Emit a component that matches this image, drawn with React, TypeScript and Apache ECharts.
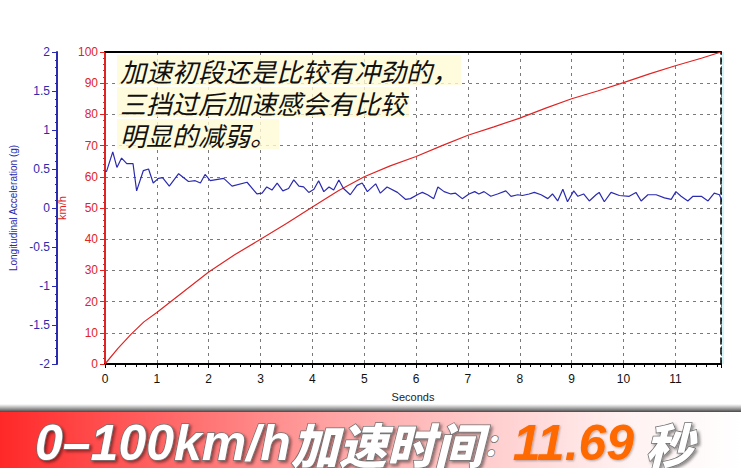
import React, { useEffect, useRef } from 'react';
import * as echarts from 'echarts';

// Vehicle speed (km/h) vs time (s)
const speedTime = [0, 0.25, 0.5, 0.75, 1, 1.5, 2, 2.5, 3, 3.5, 4, 4.5, 5, 5.5, 6, 6.5, 7, 7.5, 8, 8.5, 9, 9.5, 10, 10.5, 11, 11.5, 11.88];
const speedKmh = [0, 5, 9.5, 13.5, 16.5, 23, 29.5, 35, 40, 45, 50.3, 55.5, 60, 63.5, 66.5, 70, 73.3, 76, 78.8, 82, 85, 87.5, 90.2, 93, 95.6, 98, 100];

// Longitudinal acceleration (g) vs time (s)
const accelTime = [
  0, 0.03, 0.15, 0.23, 0.32, 0.42, 0.54, 0.61, 0.74, 0.84, 0.93, 1.03, 1.11, 1.24, 1.42, 1.61, 1.74, 1.84, 1.93, 2.03,
  2.29, 2.45, 2.74, 2.93, 3.03, 3.12, 3.22, 3.32, 3.43, 3.54, 3.64, 3.74, 3.83, 3.93, 4.03, 4.12, 4.22, 4.32, 4.41,
  4.51, 4.6, 4.73, 4.86, 4.96, 5.06, 5.22, 5.31, 5.44, 5.64, 5.8, 5.89, 6.05, 6.12, 6.22, 6.34, 6.42, 6.54, 6.67,
  6.76, 6.89, 7.02, 7.13, 7.21, 7.31, 7.44, 7.57, 7.73, 7.83, 7.96, 8.05, 8.18, 8.28, 8.41, 8.54, 8.63, 8.73, 8.83,
  8.92, 9.04, 9.12, 9.23, 9.34, 9.47, 9.53, 9.63, 9.76, 9.92, 10.11, 10.24, 10.34, 10.47, 10.63, 10.79, 10.92, 11.01,
  11.11, 11.24, 11.34, 11.5, 11.63, 11.75, 11.85, 11.88,
];
const accelG = [
  0.47, 0.47, 0.72, 0.52, 0.64, 0.57, 0.57, 0.22, 0.48, 0.5, 0.32, 0.38, 0.39, 0.28, 0.44, 0.34, 0.35, 0.32, 0.43, 0.35,
  0.38, 0.28, 0.33, 0.18, 0.19, 0.27, 0.23, 0.32, 0.22, 0.25, 0.36, 0.28, 0.27, 0.2, 0.24, 0.35, 0.21, 0.27, 0.23,
  0.36, 0.25, 0.17, 0.29, 0.32, 0.21, 0.31, 0.19, 0.27, 0.2, 0.11, 0.12, 0.18, 0.2, 0.17, 0.12, 0.27, 0.21, 0.18,
  0.19, 0.12, 0.18, 0.21, 0.18, 0.21, 0.15, 0.18, 0.22, 0.15, 0.17, 0.16, 0.18, 0.2, 0.17, 0.12, 0.18, 0.09, 0.24,
  0.08, 0.22, 0.15, 0.18, 0.09, 0.17, 0.2, 0.08, 0.2, 0.16, 0.15, 0.2, 0.09, 0.17, 0.17, 0.13, 0.11, 0.21,
  0.15, 0.09, 0.15, 0.15, 0.09, 0.19, 0.17, 0.12,
];

const xMax = 11.88;
const speedTicks = { min: 0, max: 100, interval: 10 };
const accelTicks = { min: -2, max: 2, interval: 0.5 };

const noteLines = ['加速初段还是比较有冲劲的，', '三挡过后加速感会有比较', '明显的减弱。'];
const bannerParts = { lead: '0–100km/h', label: '加速时间', colon: '：', value: '11.69', unit: ' 秒' };

const RED = '#e02424';
const BLUE = '#2b2bb0';
const GRID = '#7a7a7a';

export default function App() {
  const ref = useRef<HTMLDivElement>(null);
  useEffect(() => {
    const chart = echarts.init(ref.current!, null, { renderer: 'svg' });
    const whiteBig = {
      fontWeight: 'bold', fontStyle: 'italic',
      fill: '#ffffff', stroke: '#707070', lineWidth: 1.5, lineHeight: 40,
      textShadowColor: 'rgba(0,0,0,0.45)', textShadowBlur: 3, textShadowOffsetX: 2, textShadowOffsetY: 2,
    };
    const option: any = {
      animation: false,
      backgroundColor: '#ffffff',
      textStyle: { fontFamily: 'Liberation Sans, Arial, sans-serif' },
      grid: { left: 105, right: 20, top: 52, bottom: 104, containLabel: false },
      xAxis: [
        {
          type: 'value',
          min: 0,
          max: xMax,
          interval: 1,
          name: 'Seconds',
          nameLocation: 'middle',
          nameGap: 27,
          nameTextStyle: { color: '#222', fontSize: 11 },
          axisLine: { show: true, onZero: false, lineStyle: { color: '#000', width: 2 } },
          axisTick: { show: true, length: 4, lineStyle: { color: '#000' } },
          minorTick: { show: true, splitNumber: 5, length: 3, lineStyle: { color: '#000' } },
          axisLabel: {
            color: '#111',
            fontSize: 12,
            margin: 9,
            showMaxLabel: false,
            formatter: (v: number) => (Number.isInteger(v) ? String(v) : ''),
          },
          splitLine: { show: true, lineStyle: { color: GRID, type: [3, 4], width: 1 } },
        },
        {
          type: 'value',
          position: 'top',
          min: 0,
          max: xMax,
          axisLine: { show: true, onZero: false, lineStyle: { color: '#000', width: 2 } },
          axisTick: { show: false },
          axisLabel: { show: false },
          splitLine: { show: false },
        },
      ],
      yAxis: [
        {
          type: 'value',
          position: 'left',
          ...speedTicks,
          name: 'km/h',
          nameLocation: 'middle',
          nameRotate: 90,
          nameGap: 31,
          nameTextStyle: { color: RED, fontSize: 11 },
          axisLine: { show: true, onZero: false, lineStyle: { color: RED, width: 2 } },
          axisTick: { show: true, length: 5, lineStyle: { color: RED } },
          minorTick: { show: true, splitNumber: 5, length: 2, lineStyle: { color: RED } },
          axisLabel: { color: RED, fontSize: 12, margin: 7 },
          splitLine: { show: true, lineStyle: { color: GRID, type: [3, 4], width: 1 } },
        },
        {
          type: 'value',
          position: 'left',
          offset: 48,
          ...accelTicks,
          name: 'Longitudinal Acceleration (g)',
          nameLocation: 'middle',
          nameRotate: 90,
          nameGap: 36,
          nameTextStyle: { color: BLUE, fontSize: 10 },
          axisLine: { show: true, onZero: false, lineStyle: { color: BLUE, width: 2 } },
          axisTick: { show: true, length: 5, lineStyle: { color: BLUE } },
          minorTick: { show: true, splitNumber: 5, length: 2, lineStyle: { color: BLUE } },
          axisLabel: { color: BLUE, fontSize: 12, margin: 7 },
          splitLine: { show: false },
        },
        {
          type: 'value',
          position: 'right',
          ...speedTicks,
          axisLine: { show: true, onZero: false, lineStyle: { color: '#000', width: 1.5, type: [6, 4] } },
          axisTick: { show: false },
          axisLabel: { show: false },
          splitLine: { show: false },
        },
      ],
      series: [
        {
          type: 'line',
          name: 'Speed',
          xAxisIndex: 0,
          yAxisIndex: 0,
          data: speedTime.map((t, i) => [t, speedKmh[i]]),
          showSymbol: false,
          lineStyle: { color: RED, width: 1.2 },
          z: 3,
        },
        {
          type: 'line',
          name: 'Accel',
          xAxisIndex: 0,
          yAxisIndex: 1,
          data: accelTime.map((t, i) => [t, accelG[i]]),
          showSymbol: false,
          lineStyle: { color: BLUE, width: 1.2 },
          z: 4,
        },
      ],
      graphic: [
        {
          type: 'line',
          shape: { x1: 723, y1: 52, x2: 723, y2: 364 },
          style: { stroke: '#a8eef6', lineWidth: 1 },
          z: 1,
        },
        {
          type: 'text',
          left: 117,
          top: 55,
          z: 20,
          style: {
            text: noteLines.map((l) => `{l|${l}}`).join('\n'),
            rich: {
              l: {
                fill: '#111',
                fontSize: 26,
                fontStyle: 'italic',
                fontFamily: '"Noto Sans CJK SC", sans-serif',
                lineHeight: 32,
                height: 30,
                backgroundColor: 'rgba(255,251,214,0.8)',
                padding: [0, 3, 0, 3],
              },
            },
          },
        },
        {
          type: 'rect',
          shape: { x: 0, y: 404, width: 741, height: 8 },
          style: {
            fill: new echarts.graphic.LinearGradient(0, 0, 0, 1, [
              { offset: 0, color: 'rgba(90,90,90,0)' },
              { offset: 1, color: 'rgba(60,60,60,0.95)' },
            ]),
          },
          z: 30,
        },
        {
          type: 'rect',
          shape: { x: 0, y: 412, width: 741, height: 56 },
          style: {
            fill: new echarts.graphic.LinearGradient(0, 0, 1, 0, [
              { offset: 0, color: '#ff2828' },
              { offset: 0.45, color: '#ffa4a4' },
              { offset: 0.85, color: '#fff2f2' },
              { offset: 1, color: '#ffffff' },
            ]),
          },
          z: 30,
        },
        {
          type: 'text',
          x: 35,
          y: 443,
          z: 31,
          style: {
            text: `{a|${bannerParts.lead}}{c|${bannerParts.label}}{d|${bannerParts.colon}}{b|${bannerParts.value}}{c|${bannerParts.unit}}`,
            verticalAlign: 'middle',
            rich: {
              a: { ...whiteBig, fontSize: 50, fontFamily: 'Liberation Sans, Arial, sans-serif' },
              c: { ...whiteBig, fontSize: 48, fontWeight: 900, fontFamily: '"Noto Sans CJK SC", sans-serif' },
              d: { ...whiteBig, fontSize: 30, fontWeight: 900, fontFamily: '"Noto Sans CJK SC", sans-serif', textShadowBlur: 0, textShadowOffsetX: 0, textShadowOffsetY: 0 },
              b: {
                fontSize: 50, fontWeight: 'bold', fontStyle: 'italic', fontFamily: 'Liberation Sans, Arial, sans-serif',
                fill: '#ff6a00', lineHeight: 40,
                textShadowColor: 'rgba(0,0,0,0.3)', textShadowBlur: 2, textShadowOffsetX: 1, textShadowOffsetY: 1,
              },
            },
          },
        },
      ],
    };
    chart.setOption(option);
    return () => chart.dispose();
  }, []);
  return <div ref={ref} style={{ position: 'fixed', left: 0, top: 0, width: 741, height: 468 }} />;
}
